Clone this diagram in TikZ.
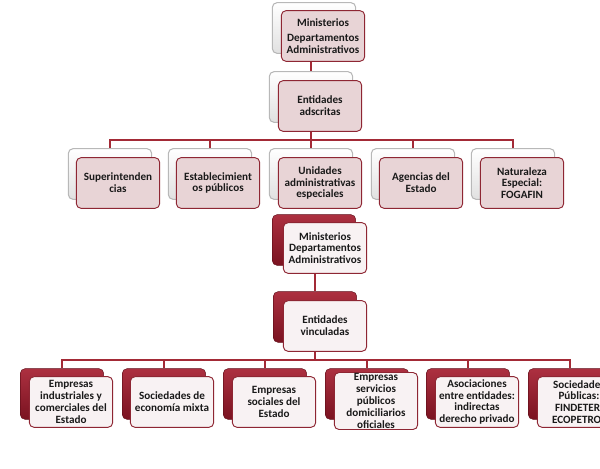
\documentclass[tikz,border=0pt]{standalone}
\usepackage{fontspec}
\usetikzlibrary{positioning}
\newfontfamily\orgfont{Carlito}
\definecolor{MyRed}{HTML}{A32A36}
\definecolor{BoxPink}{HTML}{E8D4D6}
\definecolor{BoxEdge}{HTML}{8E2633}
\definecolor{BoxWhite}{HTML}{F8F2F3}
\definecolor{DeepRed}{HTML}{A3192B}

\begin{document}
\begin{tikzpicture}[x=0.03cm, y=-0.03cm,
	link/.style={MyRed, line width=1.6pt},
	box/.style={rectangle, rounded corners=4pt, minimum width=2.5cm, minimum height=1.52cm, inner sep=1pt, align=center, font=\orgfont\bfseries\fontsize{9.5}{10.1}\selectfont, text=black!90},
	greyback/.style={box, draw=black!28, line width=0.9pt, top color=white, bottom color=black!12},
	pinkfront/.style={box, draw=BoxEdge, line width=0.8pt, fill=BoxPink},
	redback/.style={box, draw=DeepRed!60!black, top color=DeepRed!90!white, bottom color=DeepRed!75!black},
	whitefront/.style={box, draw=BoxEdge, line width=0.8pt, fill=BoxWhite}]
	
	\useasboundingbox (0,0) rectangle (600,468);
	\clip (0,0) rectangle (600,468);
	
	% adscritas
	\node[greyback] (m1b) at (314,28) {};
	\node[pinkfront] (m1) at (323,36) {Ministerios\\[3pt]Departamentos\\Administrativos};
	
	\node[greyback] (ab) at (311,97) {};
	\node[pinkfront] (a) at (320,106) {Entidades\\adscritas};
	
	\node[greyback] (supb) at (110,174) {};
	\node[pinkfront] (sup) at (118,183) {Superintenden\\cias};
	\node[greyback] (estb) at (210,174) {};
	\node[pinkfront] (est) at (218,183) {Establecimient\\os públicos};
	\node[greyback] (unib) at (311,174) {};
	\node[pinkfront] (uni) at (320,183) {Unidades\\administrativas\\especiales};
	\node[greyback] (ageb) at (413,174) {};
	\node[pinkfront] (age) at (421,183) {Agencias del\\Estado};
	\node[greyback] (natb) at (513,174) {};
	\node[pinkfront] (nat) at (522,183) {Naturaleza\\Especial:\\FOGAFIN};
	
	% vinculadas
	\node[redback] (m2b) at (314,240) {};
	\node[whitefront] (m2) at (325,248) {Ministerios\\Departamentos\\Administrativos};
	
	\node[redback] (vb) at (315,317) {};
	\node[whitefront] (v) at (325,326) {Entidades\\vinculadas};
	
	\node[redback] (eicb) at (62,394) {};
	\node[whitefront] (eic) at (71,402) {Empresas\\industriales y\\comerciales del\\Estado};
	\node[redback] (semb) at (164,394) {};
	\node[whitefront] (sem) at (172,402) {Sociedades de\\economía mixta};
	\node[redback] (esob) at (265,394) {};
	\node[whitefront] (eso) at (274,402) {Empresas\\sociales del\\Estado};
	\node[redback] (espb) at (367,394) {};
	\node[whitefront] (esp) at (376,401) {Empresas\\servicios\\públicos\\domiciliarios\\oficiales};
	\node[redback] (asob) at (468,394) {};
	\node[whitefront] (aso) at (477,402) {Asociaciones\\entre entidades:\\indirectas\\derecho privado};
	\node[redback] (spub) at (570,394) {};
	\node[whitefront] (spu) at (579,402) {Sociedades\\Públicas:\\FINDETER,\\ECOPETROL};
	
	% connectors
	\coordinate (busA) at (311,140);
	\coordinate (busV) at (315,360);
	
	\draw[link] (m1.south -| ab.north) -- (ab.north);
	\draw[link] (a.south -| busA) -- (busA);
	\foreach \n in {supb, estb, unib, ageb, natb}
		\draw[link] (busA) -| (\n.north);
	
	\draw[link] (m2.south -| vb.north) -- (vb.north);
	\draw[link] (v.south -| busV) -- (busV);
	\foreach \n in {eicb, semb, esob, espb, asob, spub}
		\draw[link] (busV) -| (\n.north);
\end{tikzpicture}
\end{document}
